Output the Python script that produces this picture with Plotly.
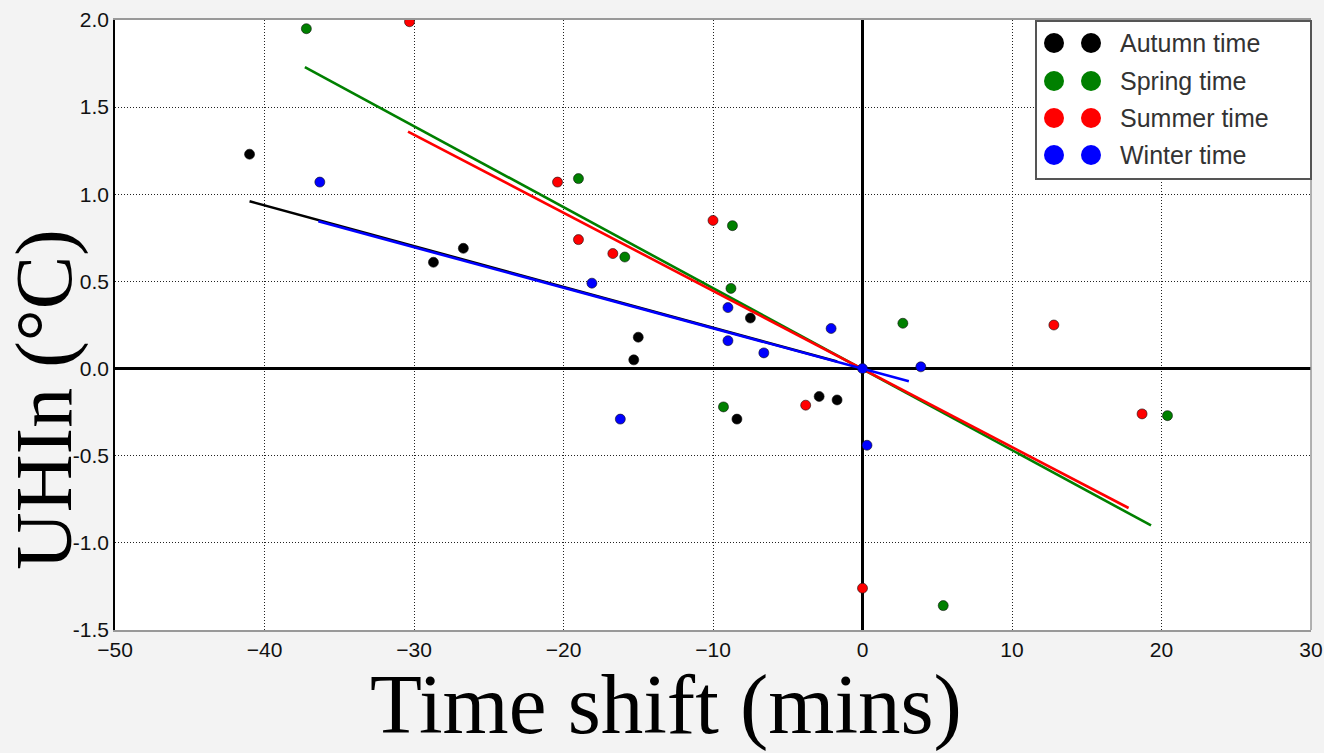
import plotly.graph_objects as go

# ---------------- data ----------------
autumn_x = [-41.0, -28.7, -26.7, -15.0, -15.3, -7.5, -8.4, -2.9, -1.7]
autumn_y = [1.23, 0.61, 0.69, 0.18, 0.05, 0.29, -0.29, -0.16, -0.18]

spring_x = [-37.2, -19.0, -15.9, -8.7, -8.8, -9.3, 2.7, 5.4, 20.4]
spring_y = [1.95, 1.09, 0.64, 0.82, 0.46, -0.22, 0.26, -1.36, -0.27]

summer_x = [-30.3, -20.4, -19.0, -16.7, -10.0, -3.8, 0.0, 12.8, 18.7]
summer_y = [1.99, 1.07, 0.74, 0.66, 0.85, -0.21, -1.26, 0.25, -0.26]

winter_x = [-36.3, -18.1, -16.2, -9.0, -9.0, -6.6, -2.1, 0.0, 0.3, 3.9]
winter_y = [1.07, 0.49, -0.29, 0.35, 0.16, 0.09, 0.23, 0.0, -0.44, 0.01]

# fitted trend lines (end points)
autumn_fit_x = [-41.0, -1.7]
autumn_fit_y = [0.96, 0.04]
spring_fit_x = [-37.3, 19.3]
spring_fit_y = [1.73, -0.90]
summer_fit_x = [-30.4, 17.8]
summer_fit_y = [1.36, -0.80]
winter_fit_x = [-36.4, 3.1]
winter_fit_y = [0.845, -0.073]

season_names = ["Autumn time", "Spring time", "Summer time", "Winter time"]
season_colors = ["#000000", "#008000", "#ff0000", "#0000ff"]

x_tickvals = [-50, -40, -30, -20, -10, 0, 10, 20, 30]
x_ticktext = ["\u221250", "\u221240", "\u221230", "\u221220", "\u221210", "0", "10", "20", "30"]
y_tickvals = [-1.5, -1.0, -0.5, 0.0, 0.5, 1.0, 1.5, 2.0]
y_ticktext = ["-1.5", "-1.0", "-0.5", "0.0", "0.5", "1.0", "1.5", "2.0"]

x_title = "Time shift (mins)"
y_title = "UHIn (°C)"

# ---------------- figure ----------------
W, H = 1324, 753
ML, MR, MT, MB = 115, 13, 20, 123
PW, PH = W - ML - MR, H - MT - MB


def px_x(p):
    return (p - ML) / PW


def px_y(p):
    return (H - MB - p) / PH


fig = go.Figure()

series = [
    (autumn_x, autumn_y, autumn_fit_x, autumn_fit_y),
    (spring_x, spring_y, spring_fit_x, spring_fit_y),
    (summer_x, summer_y, summer_fit_x, summer_fit_y),
    (winter_x, winter_y, winter_fit_x, winter_fit_y),
]

for (sx, sy, fx, fy), name, col in zip(series, season_names, season_colors):
    fig.add_trace(go.Scatter(
        x=sx, y=sy, mode="markers", name=name, showlegend=False,
        marker=dict(size=10, color=col, line=dict(width=0.6, color="#111")),
    ))
    fig.add_trace(go.Scatter(
        x=fx, y=fy, mode="lines", showlegend=False, hoverinfo="skip",
        line=dict(color=col, width=2.6),
    ))

grid_common = dict(
    showgrid=True, gridcolor="#222", gridwidth=1, griddash="1px,2px",
    zeroline=True, zerolinecolor="black", zerolinewidth=3,
    automargin=False,
    ticks="", tickfont=dict(family="Liberation Sans, Arial, sans-serif", size=21, color="#111"),
)

fig.update_xaxes(range=[-50, 30], tickvals=x_tickvals, ticktext=x_ticktext,
                 showline=True, linecolor="#999", linewidth=1.5, mirror=True,
                 **grid_common)
fig.update_yaxes(range=[-1.5, 2.0], tickvals=y_tickvals, ticktext=y_ticktext,
                 showline=True, linecolor="black", linewidth=1.5, mirror=False,
                 **grid_common)

shapes = []
# right border of the plot frame
shapes.append(dict(type="line", xref="paper", yref="paper", x0=1, x1=1, y0=0, y1=1,
                   line=dict(color="#999", width=1.5)))

# custom legend (two markers per entry)
shapes.append(dict(type="rect", xref="paper", yref="paper",
                   x0=px_x(1036), x1=px_x(1311), y0=px_y(179), y1=px_y(21),
                   fillcolor="white", line=dict(color="#555", width=2), layer="above"))
row_y = [43, 81, 118, 155]
annotations = []
for ry, name, col in zip(row_y, season_names, season_colors):
    for cx in (1054, 1091):
        shapes.append(dict(type="circle", xref="paper", yref="paper",
                           xsizemode="pixel", ysizemode="pixel",
                           xanchor=px_x(cx), yanchor=px_y(ry),
                           x0=-10, x1=10, y0=-10, y1=10,
                           fillcolor=col, line=dict(color=col, width=0), layer="above"))
    annotations.append(dict(xref="paper", yref="paper", x=px_x(1118), y=px_y(ry),
                            xanchor="left", yanchor="middle", showarrow=False,
                            text=name,
                            font=dict(family="Liberation Sans, Arial, sans-serif", size=25, color="#333")))

# axis titles
annotations.append(dict(xref="paper", yref="paper", x=px_x(666), y=px_y(704),
                        xanchor="center", yanchor="middle", showarrow=False,
                        text=x_title,
                        font=dict(family="Liberation Serif, Times New Roman, serif", size=85, color="black")))
annotations.append(dict(xref="paper", yref="paper", x=px_x(44), y=px_y(400),
                        xanchor="center", yanchor="middle", showarrow=False,
                        text=y_title, textangle=-90,
                        font=dict(family="Liberation Serif, Times New Roman, serif", size=80, color="black")))

fig.update_layout(
    width=W, height=H,
    margin=dict(l=ML, r=MR, t=MT, b=MB, autoexpand=False),
    paper_bgcolor="#f3f3f3", plot_bgcolor="white",
    showlegend=False,
    shapes=shapes, annotations=annotations,
)

fig.write_html("out.html",
               config={"displayModeBar": False},
               post_script="document.body.style.margin='0px';document.body.style.overflow='hidden';")
